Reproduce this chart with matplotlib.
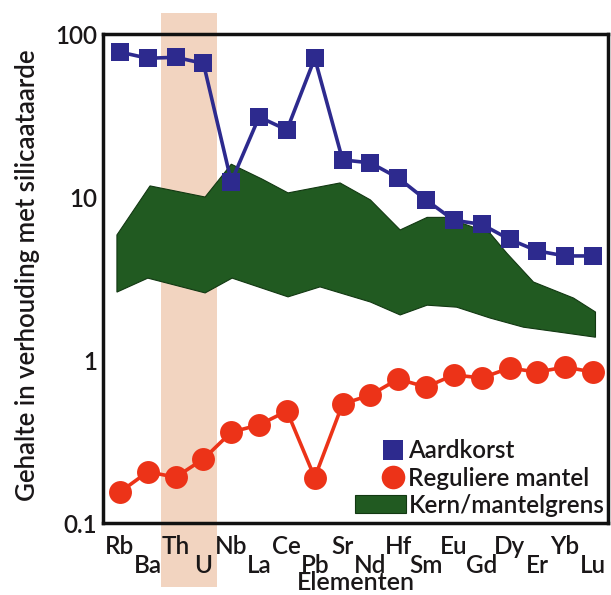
import numpy as np
import matplotlib
matplotlib.use('Agg')
import matplotlib.pyplot as plt
from matplotlib.lines import Line2D
from matplotlib.patches import Patch, Rectangle
from matplotlib.legend_handler import HandlerLine2D
import matplotlib.transforms as mtransforms

# ---- data ----
elements = ['Rb', 'Ba', 'Th', 'U', 'Nb', 'La', 'Ce', 'Pb', 'Sr', 'Nd',
            'Hf', 'Sm', 'Eu', 'Gd', 'Dy', 'Er', 'Yb', 'Lu']
aardkorst = [77.5, 71, 72, 66, 12.4, 31, 25.8, 71, 16.9, 16.2,
             13.1, 9.6, 7.2, 6.8, 5.5, 4.67, 4.35, 4.35]
mantel = [0.155, 0.206, 0.191, 0.247, 0.361, 0.40, 0.486, 0.19, 0.537, 0.61,
          0.764, 0.683, 0.81, 0.776, 0.893, 0.843, 0.906, 0.843]
band_upper_x = [-0.11, 1.08, 3.06, 4.0, 5.1, 6.04, 7.91, 9.0, 10.07, 11.04,
                11.7, 13.3, 13.9, 14.86, 16.3, 17.09]
band_upper_y = [5.85, 11.7, 10.0, 15.9, 12.9, 10.6, 12.2, 9.6, 6.28, 7.5,
                7.5, 6.0, 4.53, 3.01, 2.40, 1.97]
band_lower_x = [-0.11, 1.0, 3.06, 4.03, 6.04, 7.19, 9.0, 10.07, 11.04, 12.1,
                13.3, 14.5, 15.7, 17.09]
band_lower_y = [2.61, 3.18, 2.58, 3.18, 2.44, 2.81, 2.27, 1.89, 2.17, 2.11,
                1.81, 1.59, 1.49, 1.38]
highlight = ['Th', 'U']
yticks = [0.1, 1, 10, 100]
ytick_labels = ['0.1', '1', '10', '100']
labels = ['Aardkorst', 'Reguliere mantel', 'Kern/mantelgrens']
xlabel = 'Elementen'
ylabel = 'Gehalte in verhouding met silicaataarde'

# ---- style ----
plt.rcParams['font.family'] = ['Lato', 'DejaVu Sans']
FS = 18.5
FS_LEG = 17.5
FS_TICK = 17.5
WEIGHT = 'semibold'
TXT = '#1a1718'
BLUE = '#2D2A8E'
RED = '#EC3318'
GREEN = '#215A21'
PEACH = '#F2D4C0'

fig = plt.figure(figsize=(6.11, 5.95), dpi=100)
ax = fig.add_axes([0.1686, 0.121, 0.8265, 0.8218])

x = np.arange(len(elements))

# highlighted column (extends beyond axes)
i0 = elements.index(highlight[0])
i1 = elements.index(highlight[-1])
trans = mtransforms.blended_transform_factory(ax.transData, ax.transAxes)
ax.add_patch(Rectangle((i0 - 0.53, -0.131), (i1 + 0.49) - (i0 - 0.53), 1.174,
                       transform=trans, facecolor=PEACH, edgecolor='none',
                       clip_on=False, zorder=0))

# green band
poly_x = np.concatenate([band_upper_x, band_lower_x[::-1]])
poly_y = np.concatenate([band_upper_y, band_lower_y[::-1]])
ax.fill(poly_x, poly_y, facecolor=GREEN, edgecolor='#123812', linewidth=0.8,
        zorder=1)

# red mantle series
ax.plot(x, mantel, color=RED, linewidth=2.6, marker='o', markersize=16.5,
        markeredgewidth=0, zorder=2)
# blue crust series
ax.plot(x, aardkorst, color=BLUE, linewidth=2.6, marker='s', markersize=12.5,
        markeredgewidth=0, zorder=3)

ax.set_yscale('log')
ax.set_ylim(0.1, 100)
ax.set_xlim(-0.61, 17.54)
ax.yaxis.set_major_locator(matplotlib.ticker.FixedLocator(yticks))
ax.yaxis.set_major_formatter(matplotlib.ticker.FixedFormatter(ytick_labels))
ax.yaxis.set_minor_locator(matplotlib.ticker.NullLocator())
ax.tick_params(axis='y', length=0, pad=4, labelsize=FS_TICK, colors=TXT)

ax.set_xticks(x)
ax.set_xticklabels(elements)
ax.tick_params(axis='x', length=0, labelsize=FS_TICK, colors=TXT)
for i, t in enumerate(ax.xaxis.get_major_ticks()):
    t.set_pad(8.5 if i % 2 == 0 else 22.0)
for t in ax.get_xticklabels() + ax.get_yticklabels():
    t.set_fontweight(WEIGHT)

for s in ax.spines.values():
    s.set_linewidth(2.5)
    s.set_color('#111111')

ax.set_xlabel(xlabel, fontsize=18, color=TXT, fontweight=WEIGHT)
ax.xaxis.label.set_va('baseline')
ax.xaxis.set_label_coords(0.5, -0.137)
ax.set_ylabel(ylabel, fontsize=FS, color=TXT, fontweight=WEIGHT)
ax.yaxis.label.set_va('center')
ax.yaxis.set_label_coords(-0.150, 0.507)

handles = [
    Line2D([], [], color=BLUE, marker='s', markersize=14, linestyle='none',
           markeredgewidth=0),
    Line2D([], [], color=RED, marker='o', markersize=17, linestyle='none',
           markeredgewidth=0),
    Patch(facecolor=GREEN, edgecolor='#123812', linewidth=0.8),
]
leg = ax.legend(handles, labels, loc='upper left', bbox_to_anchor=(0.499, 0.171),
                frameon=False, fontsize=FS_LEG, borderpad=0, borderaxespad=0,
                handlelength=2.1, handleheight=0.75, handletextpad=0.1,
                labelspacing=0.17,
                handler_map={Line2D: HandlerLine2D(numpoints=1, xpad=1.0)})
for t in leg.get_texts():
    t.set_color(TXT)
    t.set_fontweight(WEIGHT)

fig.savefig('out.png', dpi=100)
